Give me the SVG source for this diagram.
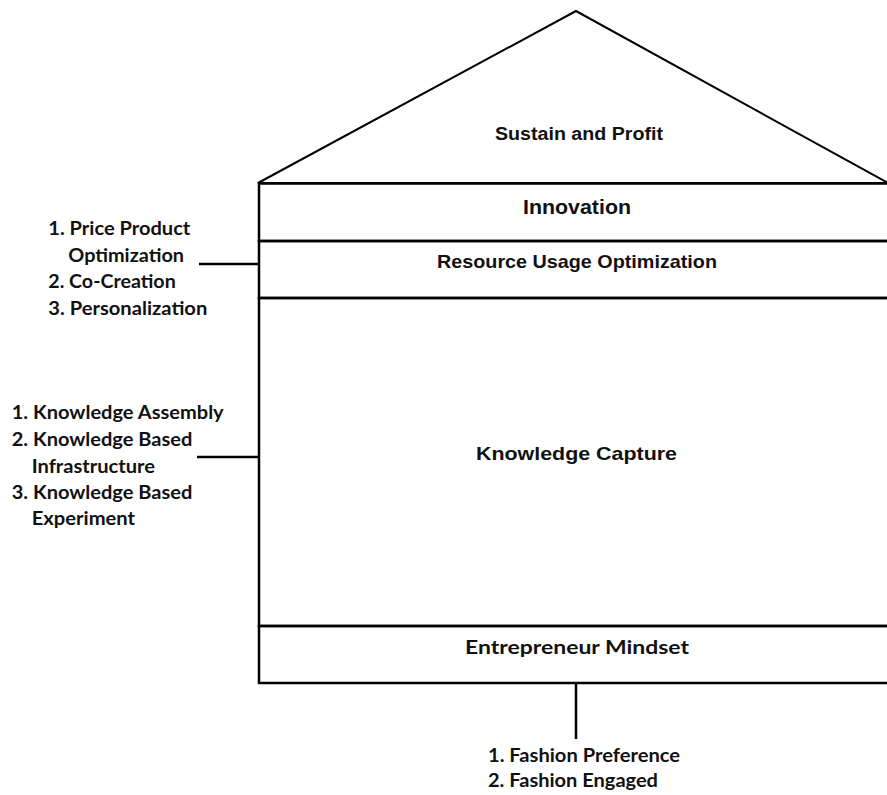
<svg xmlns="http://www.w3.org/2000/svg" width="887" height="795" viewBox="0 0 887 795">
<style>
.ln{stroke:#000;stroke-width:2.5;fill:none}
.roof{stroke:#000;stroke-width:2;fill:#fff;stroke-linejoin:miter}
.c{font-family:"Liberation Sans",Arial,sans-serif;font-weight:bold;fill:#111;text-anchor:middle}
.l{font-family:Lato,"Open Sans",sans-serif;font-weight:bold;fill:#111;font-size:19px}
</style>
<rect width="887" height="795" fill="#fff"/>
<g id="roof">
<polygon class="roof" points="258,183 576,11 888,183"/>
<text class="c" x="579" y="140" font-size="18" textLength="168" lengthAdjust="spacingAndGlyphs">Sustain and Profit</text>
</g>
<g id="innovation">
<rect class="ln" x="259" y="183.5" width="632" height="57.5" stroke-width="3"/>
<text class="c" x="577" y="214" font-size="20" textLength="108" lengthAdjust="spacingAndGlyphs">Innovation</text>
</g>
<g id="resource">
<rect class="ln" x="259" y="241" width="632" height="57"/>
<text class="c" x="577" y="268.3" font-size="19" textLength="280" lengthAdjust="spacingAndGlyphs">Resource Usage Optimization</text>
</g>
<g id="knowledge">
<rect class="ln" x="259" y="298" width="632" height="328"/>
<text class="c" x="576.5" y="460" font-size="18.5" textLength="201" lengthAdjust="spacingAndGlyphs">Knowledge Capture</text>
</g>
<g id="entrepreneur">
<rect class="ln" x="259" y="626" width="632" height="57"/>
<text class="l" x="465" y="654.3" font-size="20" textLength="224" lengthAdjust="spacingAndGlyphs">Entrepreneur Mindset</text>
</g>
<g id="list-resource">
<text class="l" x="48.3" y="235" textLength="142" lengthAdjust="spacingAndGlyphs">1. Price Product</text>
<text class="l" x="68.3" y="261.7" textLength="115.7" lengthAdjust="spacingAndGlyphs">Optimization</text>
<text class="l" x="48.3" y="288.3" textLength="127.4" lengthAdjust="spacingAndGlyphs">2. Co-Creation</text>
<text class="l" x="48.3" y="315" textLength="159" lengthAdjust="spacingAndGlyphs">3. Personalization</text>
</g>
<g id="list-knowledge">
<text class="l" x="11.7" y="419.3" textLength="212" lengthAdjust="spacingAndGlyphs">1. Knowledge Assembly</text>
<text class="l" x="11.7" y="446" textLength="180.6" lengthAdjust="spacingAndGlyphs">2. Knowledge Based</text>
<text class="l" x="31.7" y="472.7" textLength="123.3" lengthAdjust="spacingAndGlyphs">Infrastructure</text>
<text class="l" x="11.7" y="499.3" textLength="180.6" lengthAdjust="spacingAndGlyphs">3. Knowledge Based</text>
<text class="l" x="31.7" y="525" textLength="103.3" lengthAdjust="spacingAndGlyphs">Experiment</text>
</g>
<g id="list-entrepreneur">
<text class="l" x="488" y="761.7" textLength="192" lengthAdjust="spacingAndGlyphs">1. Fashion Preference</text>
<text class="l" x="488" y="787.3" textLength="170" lengthAdjust="spacingAndGlyphs">2. Fashion Engaged</text>
</g>
<g id="connectors">
<line class="ln" x1="199" y1="264" x2="259" y2="264"/>
<line class="ln" x1="197" y1="457" x2="259" y2="457"/>
<line class="ln" x1="576" y1="683" x2="576" y2="739"/>
</g>
</svg>
